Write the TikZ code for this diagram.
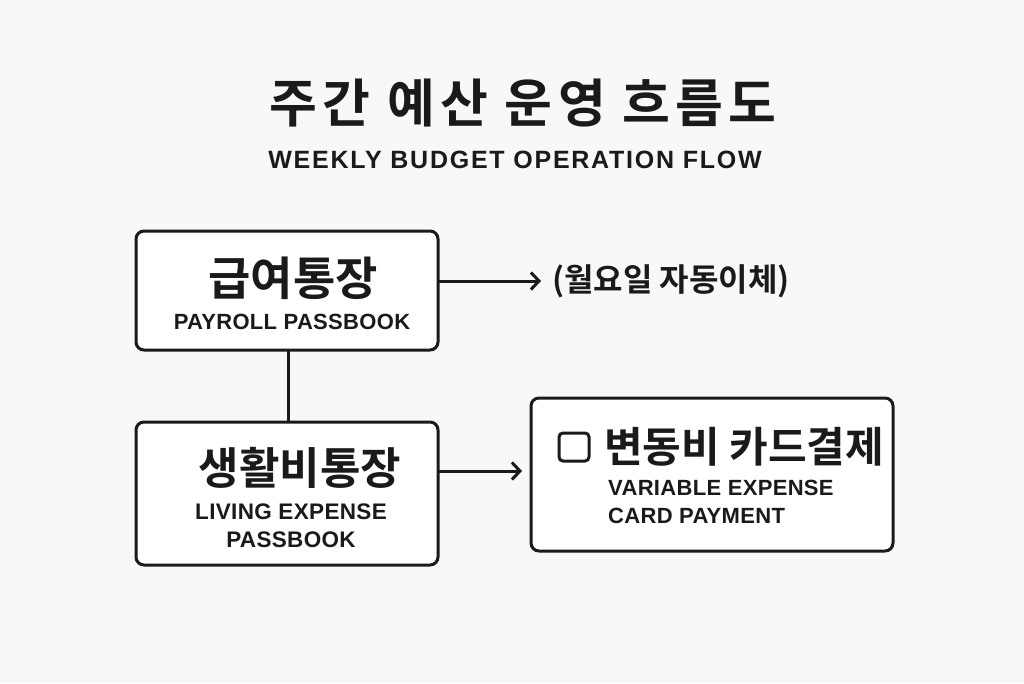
\documentclass[tikz,border=0pt]{standalone}
\usepackage{fontspec}
\setmainfont{Liberation Sans}
\newfontfamily\kr{Noto Sans CJK KR}[BoldFont={* Bold}]
\newfontfamily\krtitle{Noto Sans CJK KR}[BoldFont={* Bold},LetterSpace=10]
\newfontfamily\en{Liberation Sans}[LetterSpace=1.5]
\newfontfamily\entitle{Liberation Sans}[LetterSpace=7]
\usetikzlibrary{arrows.meta}
\definecolor{bg}{HTML}{F8F8F6}
\definecolor{ink}{HTML}{1A1A1A}
\begin{document}
\begin{tikzpicture}[x=1pt,y=-1pt,
  box/.style={draw=ink,line width=3pt,rounded corners=8pt,fill=white,inner sep=0pt},
  conn/.style={draw=ink,line width=3pt},
  arr/.style={conn,-{Straight Barb[length=8pt,width=17pt,line width=3pt]}},
  krbig/.style={font=\kr\bfseries\fontsize{46}{50}\selectfont,text=ink,inner sep=0pt},
  ensub/.style={font=\en\bfseries\fontsize{22}{28}\selectfont,text=ink,inner sep=0pt,align=center}]
\fill[bg] (0,0) rectangle (1024,683);
\useasboundingbox (0,0) rectangle (1024,683);
% titles
\node[font=\krtitle\bfseries\fontsize{52}{56}\selectfont,text=ink,inner sep=0pt] (title) at (523,103) {주간 예산 운영 흐름도};
\node[font=\entitle\bfseries\fontsize{25}{30}\selectfont,text=ink,inner sep=0pt] (subtitle) at (515,160) {WEEKLY BUDGET OPERATION FLOW};
% boxes
\draw[box] (136,231) rectangle (438,350);
\coordinate (b1e) at (438,281);
\coordinate (b1s) at (288,350);
\node[krbig] (t1) at (293,278) {급여통장};
\node[ensub] (s1) at (292,322) {PAYROLL PASSBOOK};
\draw[box] (136,422) rectangle (438,565);
\coordinate (b2n) at (288,422);
\coordinate (b2e) at (438,471);
\node[krbig,font=\kr\bfseries\fontsize{44}{48}\selectfont] (t2) at (300,468) {생활비통장};
\node[ensub,font=\en\bfseries\fontsize{22.5}{28}\selectfont] (s2) at (291,526) {LIVING EXPENSE\\PASSBOOK};
\draw[box] (531,398) rectangle (893,551);
\draw[draw=ink,line width=3pt,rounded corners=4pt] (559,433) rectangle (589,461);
\node[krbig,font=\kr\bfseries\fontsize{42}{46}\selectfont,anchor=west] (t3) at (604,447) {변동비 카드결제};
\node[ensub,align=left,anchor=north west] (s3) at (608,480) {VARIABLE EXPENSE\\CARD PAYMENT};
% connectors
\node[font=\kr\bfseries\fontsize{32}{36}\selectfont,text=ink,inner sep=0pt,anchor=west] (note) at (552,281) {(월요일 자동이체)};
\coordinate (a1end) at (541,281);
\coordinate (a2end) at (522,471);
\draw[arr] (b1e) -- (a1end);
\draw[arr] (b2e) -- (a2end);
\draw[conn] (b1s) -- (b2n);
\end{tikzpicture}
\end{document}
